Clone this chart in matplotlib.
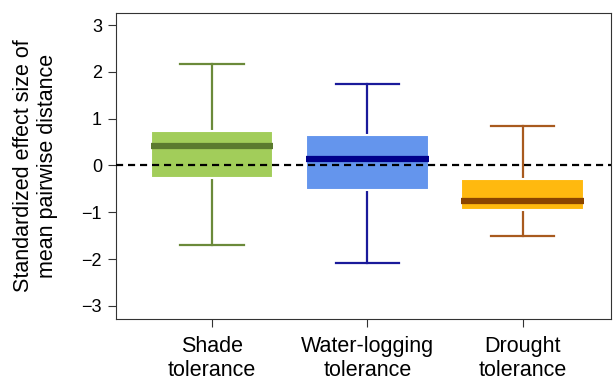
import matplotlib.pyplot as plt

plt.rcParams['font.family'] = ['Liberation Sans', 'DejaVu Sans']
plt.rcParams['font.size'] = 13

# box statistics
labels = ['Shade\ntolerance', 'Water-logging\ntolerance', 'Drought\ntolerance']
whislo = [-1.69, -2.09, -1.51]
q1 = [-0.26, -0.53, -0.96]
med = [0.41, 0.13, -0.77]
q3 = [0.73, 0.65, -0.28]
whishi = [2.17, 1.75, 0.84]

box_colors = ['#A2CD5A', '#6495ED', '#FFB90F']
med_colors = ['#5B7A2F', '#00008B', '#8B4500']
line_colors = ['#6B8A3A', '#1A1A9A', '#A85A1E']


def main():
    fig = plt.figure(figsize=(6.13, 3.81), dpi=100)
    ax = fig.add_axes([0.189, 0.163, 0.808, 0.803])

    stats = []
    for i in range(len(labels)):
        stats.append(dict(med=med[i], q1=q1[i], q3=q3[i],
                          whislo=whislo[i], whishi=whishi[i], label=labels[i]))

    bp = ax.bxp(stats, positions=[1, 2, 3], widths=0.79, patch_artist=True,
                showfliers=False, capwidths=0.41)
    for i in range(len(labels)):
        box = bp['boxes'][i]
        box.set_facecolor(box_colors[i])
        box.set_edgecolor('white')
        box.set_linewidth(1.5)
        box.set_zorder(3)
        bp['medians'][i].set(color=med_colors[i], linewidth=4.5, zorder=4,
                              solid_capstyle='butt')
        for ln in bp['whiskers'][2 * i:2 * i + 2] + bp['caps'][2 * i:2 * i + 2]:
            ln.set(color=line_colors[i], linewidth=1.6, zorder=2)

    ax.axhline(0, color='black', linestyle=(0, (3.2, 2.2)), linewidth=1.6, zorder=5)

    ax.set_xlim(0.38, 3.57)
    ax.set_ylim(-3.28, 3.26)
    ax.set_yticks([-3, -2, -1, 0, 1, 2, 3])
    ax.set_yticklabels(['\u22123', '\u22122', '\u22121', '0', '1', '2', '3'])
    ax.tick_params(axis='both', length=6, width=0.8, color='#333333', pad=4)
    ax.tick_params(axis='x', pad=6, labelsize=15.5)
    for sp in ax.spines.values():
        sp.set_linewidth(0.8)
        sp.set_color('#333333')

    ax.set_ylabel('Standardized effect size of\nmean pairwise distance',
                  fontsize=15.5, labelpad=17)

    fig.savefig('out.png', dpi=100)


if __name__ == '__main__':
    main()
